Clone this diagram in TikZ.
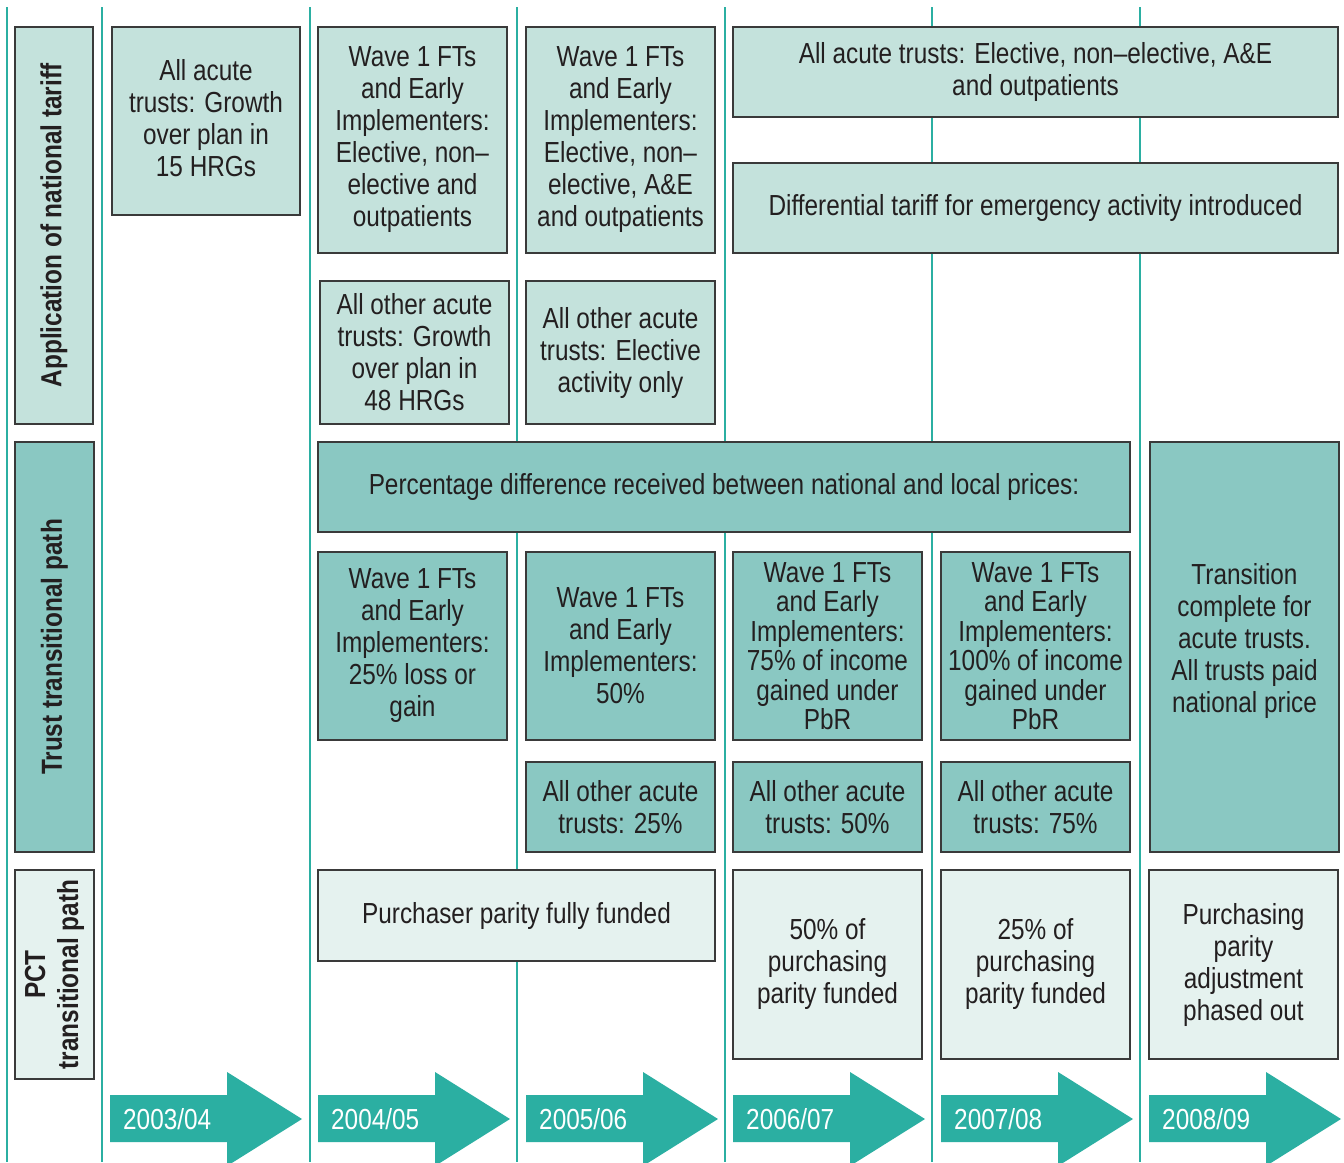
\documentclass[tikz,border=0pt]{standalone}
\usepackage{fontspec}
\setmainfont{Liberation Sans}[FakeStretch=0.84]
\definecolor{tealc}{HTML}{2BAFA2}
\definecolor{lightc}{HTML}{C4E2DC}
\definecolor{midc}{HTML}{8AC8C2}
\definecolor{palec}{HTML}{E5F2EF}
\definecolor{bordc}{HTML}{3A3A3A}
\definecolor{textc}{HTML}{231F20}
\newcommand\cellbox[7]{\node[#2, minimum width={(#5-#3)*1pt}, minimum height={(#6-#4)*1pt}] (#1) at ({(#3+#5)/2},{(#4+#6)/2}) {#7};}
\newcommand\labbox[7]{\node[#2, rotate=90, minimum width={(#6-#4)*1pt}, minimum height={(#5-#3)*1pt}] (#1) at ({(#3+#5)/2},{(#4+#6)/2}) {#7};}
\newcommand\yeararrow[3]{%
  \fill[tealc] (#2,1095) -- (#2+117,1095) -- (#2+117,1072) -- (#2+192,1119) -- (#2+117,1166) -- (#2+117,1142) -- (#2,1142) -- cycle;
  \node[yeartext] (#1) at (#2+13,1119) {#3};}
\begin{document}
\begin{tikzpicture}[x=1pt,y=-1pt,
  basebox/.style={draw=bordc, line width=1.2pt, align=center, text=textc, inner sep=0pt,
    font=\fontsize{29}{32}\selectfont},
  lightbox/.style={basebox, fill=lightc},
  midbox/.style={basebox, fill=midc},
  palebox/.style={basebox, fill=palec},
  tightlead/.style={font=\fontsize{29}{29.5}\selectfont},
  labfont/.style={font=\bfseries\fontsize{29}{33}\selectfont},
  yeartext/.style={anchor=west, text=white, inner sep=0pt, font=\fontsize{29}{32}\selectfont},
  gridline/.style={draw=tealc, line width=2.6pt}]
\useasboundingbox (0,0) rectangle (1344,1162);
\fill[white] (0,0) rectangle (1344,1162);
% column grid lines
\foreach \gx in {7,102,310,517,725,932,1140}
  \draw[gridline] (\gx,7) -- (\gx,1162);
% row labels
\labbox{labA}{lightbox,labfont}{15}{27}{93}{424}{Application of national tariff}
\labbox{labB}{midbox,labfont}{15}{442}{94}{852}{Trust transitional path}
\labbox{labC}{palebox,labfont}{15}{870}{94}{1079}{PCT\\transitional path}
% application of national tariff
\cellbox{a1}{lightbox}{112}{27}{300}{215}{All acute\\trusts: Growth\\over plan in\\15 HRGs\\[-26pt]}
\cellbox{a2}{lightbox}{318}{27}{507}{253}{Wave 1 FTs\\and Early\\Implementers:\\Elective, non–\\elective and\\outpatients}
\cellbox{a2b}{lightbox}{320}{281}{509}{424}{All other acute\\trusts: Growth\\over plan in\\48 HRGs}
\cellbox{a3}{lightbox}{526}{27}{715}{253}{Wave 1 FTs\\and Early\\Implementers:\\Elective, non–\\elective, A\&E\\and outpatients}
\cellbox{a3b}{lightbox}{526}{281}{715}{424}{All other acute\\trusts: Elective\\activity only}
\cellbox{a4}{lightbox}{733}{27}{1338}{117}{All acute trusts: Elective, non–elective, A\&E\\and outpatients}
\cellbox{a4b}{lightbox}{733}{163}{1338}{253}{Differential tariff for emergency activity introduced}
% trust transitional path
\cellbox{th}{midbox}{318}{442}{1130}{532}{Percentage difference received between national and local prices:}
\cellbox{t2}{midbox}{318}{552}{507}{740}{Wave 1 FTs\\and Early\\Implementers:\\25\% loss or\\gain}
\cellbox{t3}{midbox}{526}{552}{715}{740}{Wave 1 FTs\\and Early\\Implementers:\\50\%}
\cellbox{t4}{midbox,tightlead}{733}{552}{922}{740}{Wave 1 FTs\\and Early\\Implementers:\\75\% of income\\gained under\\PbR}
\cellbox{t5}{midbox,tightlead}{941}{552}{1130}{740}{Wave 1 FTs\\and Early\\Implementers:\\100\% of income\\gained under\\PbR}
\cellbox{t6}{midbox}{1150}{442}{1339}{852}{Transition\\complete for\\acute trusts.\\All trusts paid\\national price\\[-14pt]}
\cellbox{o3}{midbox}{526}{762}{715}{852}{All other acute\\trusts: 25\%}
\cellbox{o4}{midbox}{733}{762}{922}{852}{All other acute\\trusts: 50\%}
\cellbox{o5}{midbox}{941}{762}{1130}{852}{All other acute\\trusts: 75\%}
% PCT transitional path
\cellbox{p2}{palebox}{318}{870}{715}{961}{Purchaser parity fully funded}
\cellbox{p4}{palebox}{733}{870}{922}{1059}{50\% of\\purchasing\\parity funded}
\cellbox{p5}{palebox}{941}{870}{1130}{1059}{25\% of\\purchasing\\parity funded}
\cellbox{p6}{palebox}{1149}{870}{1338}{1059}{Purchasing\\parity\\adjustment\\phased out}
% year arrows
\yeararrow{y1}{110}{2003/04}
\yeararrow{y2}{318}{2004/05}
\yeararrow{y3}{526}{2005/06}
\yeararrow{y4}{733}{2006/07}
\yeararrow{y5}{941}{2007/08}
\yeararrow{y6}{1149}{2008/09}
\end{tikzpicture}
\end{document}
